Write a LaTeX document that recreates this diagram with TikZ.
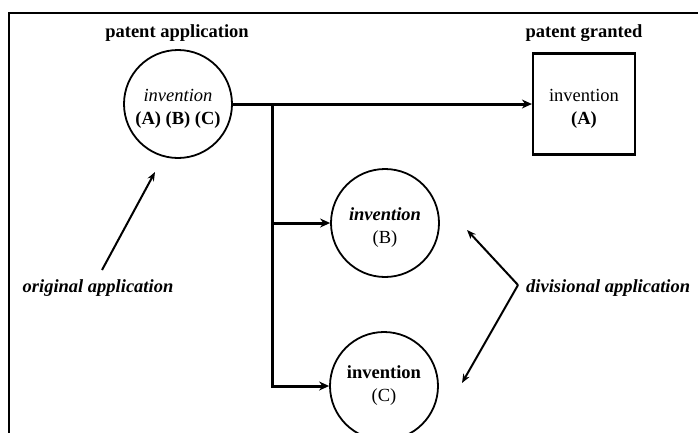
\documentclass[tikz,border=0pt]{standalone}
\usepackage{fontspec}
\setmainfont{Liberation Serif}
\usetikzlibrary{arrows.meta}
\newcommand{\dfs}{\fontsize{18.5}{23}\selectfont}
\newcommand{\dstrut}{\rule{0pt}{22pt}}
\begin{document}
\begin{tikzpicture}[x=1pt,y=-1pt,
  circ/.style={circle,draw,line width=1.8pt,minimum size=108pt,inner sep=0pt,align=center,font=\dfs},
  sq/.style={rectangle,draw,line width=2.2pt,minimum width=102pt,minimum height=101pt,inner sep=0pt,align=center,font=\dfs},
  lbl/.style={font=\dfs\bfseries,inner sep=0pt},
  conn/.style={line width=3pt,-{Stealth[length=10pt,width=9pt]}},
  note/.style={line width=2pt,-{Stealth[length=9pt,width=7pt]}},
  frame/.style={line width=2.5pt}]
\useasboundingbox (0,0) rectangle (698,432);
\draw[frame] (9,433) -- (9,13) -- (699,13);
\node[circ] (A) at (178,104) {\dstrut\textit{invention}\\\textbf{(A) (B) (C)}};
\node[sq] (G) at (584,104) {\dstrut invention\\\textbf{(A)}};
\node[circ] (B) at (385,223) {\dstrut\textbf{\textit{invention}}\\(B)};
\node[circ] (C) at (384,386) {\textbf{invention}\\(C)};
\node[lbl] (pa) at (177,33) {patent application};
\node[lbl] (pg) at (584,33) {patent granted};
\node[lbl,font=\dfs\bfseries\itshape] (oa) at (98,288) {original application};
\node[lbl,font=\dfs\bfseries\itshape,anchor=west] (da) at (526,288) {divisional application};
\coordinate (trunk) at (272,104);
\coordinate (oaS) at (102,270);
\coordinate (oaE) at (155,172);
\coordinate (daS) at (518,285);
\coordinate (daB) at (467,230);
\coordinate (daC) at (462,383);
\draw[conn] (A.east) -- (G.west);
\draw[conn] (trunk) |- (B.west);
\draw[conn] (trunk) |- (C.west);
\draw[note] (oaS) -- (oaE);
\draw[note] (daS) -- (daB);
\draw[note] (daS) -- (daC);
\end{tikzpicture}
\end{document}
